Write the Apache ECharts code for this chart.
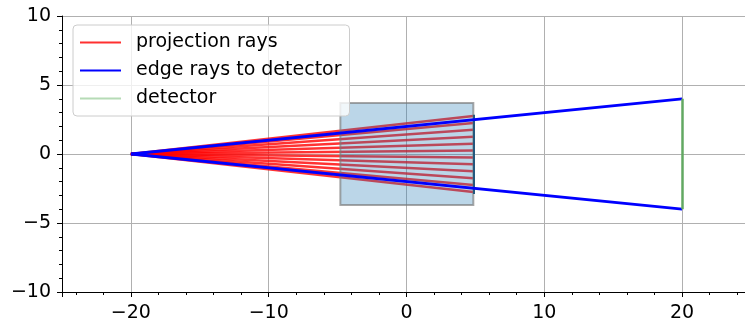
<!DOCTYPE html>
<html>
<head>
<meta charset="utf-8">
<script src="https://cdn.jsdelivr.net/npm/echarts@6/dist/echarts.min.js"></script>
<style>
  html, body { margin: 0; padding: 0; background: #fff; }
  #chart { width: 745px; height: 327px; }
</style>
</head>
<body>
<div id="chart"></div>
<script>
// source and detector
const source = [-20, 0];
const detectorX = 20;
const detectorY = [-4, 4];

// object box
const objectX = [-4.8, 4.85];
const objectY = [-3.7, 3.7];

// projection rays end on the far side of the object
const rayEndX = 4.85;
const rayEndY = [-2.75, -2.25, -1.75, -1.25, -0.75, -0.25, 0.25, 0.75, 1.25, 1.75, 2.25, 2.75];
const objectEdgeY = [-2.9, 2.85];

const legendNames = ['projection rays', 'edge rays to detector', 'detector'];
const legendColors = ['#ff3030', '#0000ff', '#b6dbb6'];

const chart = echarts.init(document.getElementById('chart'));

const font = 'DejaVu Sans';
const minus = v => (v < 0 ? '\u2212' + Math.abs(v) : String(v));

const projectionRays = rayEndY.map(y => ({ coords: [source, [rayEndX, y]] }));
const edgeRays = detectorY.map(y => ({ coords: [source, [detectorX, y]] }));

const option = {
  animation: false,
  grid: {
    left: 62,
    top: 16,
    right: -6,
    bottom: 35,
    outerBoundsMode: 'none'
  },
  legend: {
    data: legendNames.map((name, i) => ({
      name,
      itemStyle: { color: legendColors[i], borderWidth: 0 },
      lineStyle: { color: legendColors[i], width: 0 }
    })),
    orient: 'vertical',
    left: 73,
    top: 25,
    icon: 'rect',
    itemWidth: 41,
    itemHeight: 2,
    itemGap: 9,
    padding: [8, 8, 8, 7],
    backgroundColor: 'rgba(255,255,255,0.8)',
    borderColor: '#cccccc',
    borderWidth: 1,
    borderRadius: 4,
    selectedMode: false,
    z: 10,
    textStyle: {
      fontFamily: font,
      fontSize: 19,
      lineHeight: 19,
      color: '#000',
      padding: [0, 0, 0, 10]
    }
  },
  xAxis: {
    type: 'value',
    min: -25,
    max: 25,
    splitNumber: 5,
    axisLine: { onZero: false, lineStyle: { color: '#000', width: 1 } },
    axisTick: { length: 5, lineStyle: { color: '#000' } },
    minorTick: { show: true, splitNumber: 5, length: 3, lineStyle: { color: '#000' } },
    axisLabel: {
      showMinLabel: false,
      showMaxLabel: false,
      margin: 12,
      fontFamily: font,
      fontSize: 19,
      color: '#000',
      formatter: minus
    },
    splitLine: { show: true, lineStyle: { color: '#b0b0b0', width: 1 } }
  },
  yAxis: {
    type: 'value',
    min: -10,
    max: 10,
    interval: 5,
    axisLine: { onZero: false, lineStyle: { color: '#000', width: 1 } },
    axisTick: { length: 5, lineStyle: { color: '#000' } },
    minorTick: { show: true, splitNumber: 5, length: 3, lineStyle: { color: '#000' } },
    axisLabel: {
      margin: 11,
      fontFamily: font,
      fontSize: 19,
      color: '#000',
      formatter: minus
    },
    splitLine: { show: true, lineStyle: { color: '#b0b0b0', width: 1 } }
  },
  series: [
    {
      name: legendNames[0],
      type: 'lines',
      coordinateSystem: 'cartesian2d',
      z: 2,
      lineStyle: { color: '#ff0000', width: 2.5, opacity: 0.8 },
      data: projectionRays
    },
    {
      // the object, drawn over the rays
      name: 'object',
      type: 'custom',
      z: 3,
      data: [[objectX[0], objectY[0], objectX[1], objectY[1]]],
      renderItem: (params, api) => {
        const p0 = api.coord([api.value(0), api.value(3)]);
        const p1 = api.coord([api.value(2), api.value(1)]);
        return {
          type: 'rect',
          shape: { x: p0[0], y: p0[1], width: p1[0] - p0[0], height: p1[1] - p0[1] },
          style: {
            fill: 'rgba(31,119,180,0.3)',
            stroke: 'rgba(120,120,120,0.65)',
            lineWidth: 2
          }
        };
      }
    },
    {
      name: 'object edge',
      type: 'lines',
      coordinateSystem: 'cartesian2d',
      z: 3,
      lineStyle: { color: '#24587e', width: 2, opacity: 1 },
      data: [{ coords: [[rayEndX, objectEdgeY[0]], [rayEndX, objectEdgeY[1]]] }]
    },
    {
      name: legendNames[1],
      type: 'lines',
      coordinateSystem: 'cartesian2d',
      z: 4,
      lineStyle: { color: '#0000ff', width: 2.8, opacity: 1 },
      data: edgeRays
    },
    {
      name: legendNames[2],
      type: 'lines',
      coordinateSystem: 'cartesian2d',
      z: 4,
      lineStyle: { color: '#62a862', width: 2.5, opacity: 1 },
      data: [{ coords: [[detectorX, detectorY[0]], [detectorX, detectorY[1]]] }]
    }
  ]
};

chart.setOption(option);

window.addEventListener('resize', () => chart.resize());
</script>
</body>
</html>
